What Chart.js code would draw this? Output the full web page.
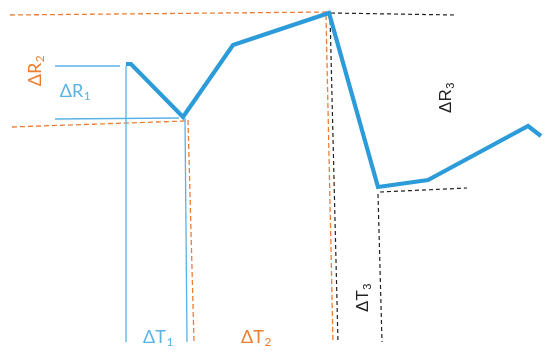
<!DOCTYPE html>
<html>
<head>
<meta charset="utf-8">
<script src="https://cdn.jsdelivr.net/npm/chart.js@4/dist/chart.umd.min.js"></script>
<style>
html,body{margin:0;padding:0;background:#fff;}
#wrap{width:550px;height:357px;}
</style>
</head>
<body>
<div id="wrap"><canvas id="c" width="550" height="357"></canvas></div>
<script>
// Main curve: time vs. response
const time = [126, 131, 183, 233, 329, 378, 428, 528, 541];
const response = [293, 293, 240, 312, 344, 170, 177, 231, 221];

// Guide lines (start/end values)
const guideNames = ['R1top','R1bot','T1left','T1right','R2top','R2bot','T2left','T2right','R3top','R3bot','T3left','T3right'];
const guideX0 = [55, 55, 126, 185, 10, 12, 188, 326, 331, 380, 330, 378];
const guideY0 = [291, 238, 291, 239, 342, 230, 237, 342, 344, 165, 343, 163];
const guideX1 = [120, 179, 126, 187, 329, 185, 194, 333, 455, 467, 338, 382];
const guideY1 = [291, 239, 15, 15, 345, 236, 15, 14, 342, 169, 14, 15];
const guideGroup = ['b','b','b','b','o','o','o','o','k','k','k','k'];

// Labels
const labelMain = ['ΔR','ΔR','ΔR','ΔT','ΔT','ΔT'];
const labelSub = ['1','2','3','1','2','3'];
const labelGroup = ['b','o','k','b','o','k'];

const styleOf = {
  b: {color:'#5ab3e4', dash:[], width:1.3, font:'Lato, "Open Sans", sans-serif'},
  o: {color:'#ed7d31', dash:[5,3], width:1.3, font:'Lato, "Open Sans", sans-serif'},
  k: {color:'#222222', dash:[4,3], width:1.2, font:'"Liberation Sans", Arial, sans-serif'}
};
const labelLayout = [
  {x:75, y:266, rot:0},
  {x:35, y:286, rot:-1},
  {x:446, y:259, rot:-1},
  {x:158, y:20, rot:0},
  {x:256, y:20, rot:0},
  {x:363, y:59, rot:-1}
];

const datasets = [{
  data: time.map((t,i)=>({x:t, y:response[i]})),
  showLine:true, borderColor:'#2c9bd9', borderWidth:4.2, pointRadius:0,
  borderJoinStyle:'miter', borderCapStyle:'butt', tension:0, order:0
}];
guideNames.forEach((n,i)=>{
  const s = styleOf[guideGroup[i]];
  datasets.push({
    label:n,
    data:[{x:guideX0[i], y:guideY0[i]},{x:guideX1[i], y:guideY1[i]}],
    showLine:true, borderColor:s.color, borderWidth:s.width, borderDash:s.dash,
    pointRadius:0, tension:0, order:1
  });
});

const labelPlugin = {
  id:'labels',
  afterDatasetsDraw(chart){
    const ctx = chart.ctx, xs = chart.scales.x, ys = chart.scales.y;
    labelMain.forEach((m,i)=>{
      const s = styleOf[labelGroup[i]];
      const L = labelLayout[i];
      const px = xs.getPixelForValue(L.x), py = ys.getPixelForValue(L.y);
      const big = labelGroup[i]==='k' ? 17 : 18;
      const small = labelGroup[i]==='k' ? 11 : 12;
      ctx.save();
      ctx.translate(px, py);
      if (L.rot) ctx.rotate(-Math.PI/2);
      ctx.fillStyle = s.color;
      ctx.textBaseline = 'middle';
      ctx.textAlign = 'left';
      ctx.font = big + 'px ' + s.font;
      const w1 = ctx.measureText(m).width;
      ctx.font = small + 'px ' + s.font;
      const w2 = ctx.measureText(labelSub[i]).width;
      const x0 = -(w1 + w2)/2;
      ctx.font = big + 'px ' + s.font;
      ctx.fillText(m, x0, 0);
      ctx.font = small + 'px ' + s.font;
      ctx.fillText(labelSub[i], x0 + w1 + 0.5, 5);
      ctx.restore();
    });
  }
};

new Chart(document.getElementById('c'), {
  type:'scatter',
  data:{datasets},
  options:{
    responsive:false, animation:false,
    layout:{padding:0},
    plugins:{legend:{display:false}, tooltip:{enabled:false}},
    scales:{
      x:{type:'linear', min:0, max:550, display:false},
      y:{type:'linear', min:0, max:357, display:false}
    }
  },
  plugins:[labelPlugin]
});
</script>
</body>
</html>
